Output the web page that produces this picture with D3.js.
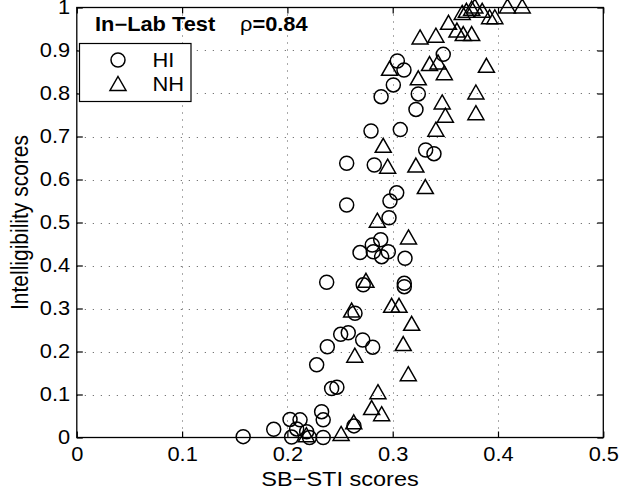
<!DOCTYPE html>
<html><head><meta charset="utf-8">
<script src="https://cdn.jsdelivr.net/npm/d3@7/dist/d3.min.js"></script>
<style>
body{margin:0;background:#fff;}
text{font-family:"Liberation Sans",Arial,Helvetica,sans-serif;fill:#000;}
</style></head>
<body><svg id="c" width="620" height="492"></svg>
<script>
const xTicks=[0,0.1,0.2,0.3,0.4,0.5];
const yTicks=[0,0.1,0.2,0.3,0.4,0.5,0.6,0.7,0.8,0.9,1];
const xTickLabels=["0","0.1","0.2","0.3","0.4","0.5"];
const yTickLabels=["0","0.1","0.2","0.3","0.4","0.5","0.6","0.7","0.8","0.9","1"];
const seriesNames=["HI","NH"];
const hiX=[0.158,0.187,0.2025,0.212,0.2088,0.204,0.2183,0.221,0.234,0.2325,0.234,0.242,0.247,0.2632,0.2278,0.2379,0.2506,0.2578,0.2715,0.281,0.2642,0.2373,0.272,0.311,0.311,0.269,0.2806,0.2816,0.2895,0.2886,0.2958,0.3117,0.2965,0.2974,0.3038,0.2563,0.2563,0.2825,0.3313,0.3392,0.2794,0.3072,0.3221,0.289,0.3243,0.3006,0.3107,0.3044,0.348];
const hiY=[0.002,0.019,0.042,0.041,0.02,0.001,0.0135,0.0,0.0,0.06,0.041,0.114,0.117,0.027,0.169,0.211,0.24,0.2437,0.2267,0.21,0.289,0.361,0.355,0.3586,0.3507,0.43,0.4477,0.432,0.4205,0.46,0.432,0.4167,0.511,0.55,0.569,0.5407,0.6377,0.6337,0.6686,0.66,0.7128,0.716,0.763,0.7926,0.799,0.82,0.8547,0.8756,0.891];
const nhX=[0.218,0.251,0.263,0.280,0.2895,0.286,0.3148,0.264,0.310,0.318,0.299,0.306,0.261,0.2746,0.2854,0.315,0.331,0.322,0.2952,0.291,0.341,0.350,0.347,0.379,0.379,0.297,0.3243,0.335,0.343,0.349,0.389,0.326,0.341,0.353,0.361,0.367,0.375,0.366,0.370,0.375,0.378,0.385,0.392,0.397,0.409,0.423];
const nhY=[0.003,0.006,0.033,0.066,0.052,0.103,0.145,0.188,0.215,0.262,0.304,0.304,0.293,0.362,0.502,0.463,0.58,0.63,0.6275,0.676,0.7135,0.746,0.777,0.752,0.80,0.855,0.833,0.866,0.870,0.845,0.862,0.928,0.932,0.962,0.944,0.936,0.936,0.985,0.99,0.995,1.0,0.99,0.975,0.975,1.0,1.0];

const SX=1.12;
const svg=d3.select("#c");
const x=d3.scaleLinear().domain([0,0.5]).range([76.8,603.3]);
const y=d3.scaleLinear().domain([0,1]).range([437.5,7.5]);
const L=x(0),R=x(0.5),T=y(1),B=y(0);

// grid
const g=svg.append("g");
g.selectAll("line.gx").data(xTicks.slice(1,-1)).join("line")
 .attr("x1",d=>Math.round(x(d))+0.5).attr("x2",d=>Math.round(x(d))+0.5).attr("y1",T).attr("y2",B)
 .attr("stroke","#555").attr("stroke-width",1).attr("stroke-dasharray","1,6");
g.selectAll("line.gy").data(yTicks.slice(1,-1)).join("line")
 .attr("y1",d=>Math.round(y(d))+0.5).attr("y2",d=>Math.round(y(d))+0.5).attr("x1",L).attr("x2",R)
 .attr("stroke","#555").attr("stroke-width",1).attr("stroke-dasharray","1,7");

// axes
const fs=19.5;
const ax=svg.append("g").attr("transform",`translate(0,${B})`)
 .call(d3.axisBottom(x).tickValues(xTicks).tickFormat((d,i)=>xTickLabels[i]).tickSizeInner(-6).tickSizeOuter(0).tickPadding(10));
const ay=svg.append("g").attr("transform",`translate(${L},0)`)
 .call(d3.axisLeft(y).tickValues(yTicks).tickFormat((d,i)=>yTickLabels[i]).tickSizeInner(-6).tickSizeOuter(0).tickPadding(6));
const at=svg.append("g").attr("transform",`translate(0,${T})`)
 .call(d3.axisTop(x).tickValues(xTicks).tickFormat("").tickSizeInner(-6).tickSizeOuter(0));
const ar=svg.append("g").attr("transform",`translate(${R},0)`)
 .call(d3.axisRight(y).tickValues(yTicks).tickFormat("").tickSizeInner(-6).tickSizeOuter(0));
[ax,ay,at,ar].forEach(a=>{a.select(".domain").remove();a.selectAll("line").attr("stroke","#000").attr("stroke-width",1.2);
 a.selectAll("text").attr("font-size",fs).attr("font-family","Liberation Sans, Arial, sans-serif").attr("fill","#000");});
ax.selectAll("text").attr("transform",`scale(${SX},1)`);
ay.selectAll("text").attr("transform",`scale(${SX},1)`);

svg.append("rect").attr("x",L).attr("y",T).attr("width",R-L).attr("height",B-T)
 .attr("fill","none").attr("stroke","#000").attr("stroke-width",1.3);

// markers
const hi=hiX.map((v,i)=>({x:v,y:hiY[i]}));
const nh=nhX.map((v,i)=>({x:v,y:nhY[i]}));
const tri="M0,-8.5L8,5.5L-8,5.5Z";
svg.append("g").selectAll("circle").data(hi).join("circle")
 .attr("cx",d=>x(d.x)).attr("cy",d=>y(d.y)).attr("r",7)
 .attr("fill","none").attr("stroke","#000").attr("stroke-width",1.5);
svg.append("g").selectAll("path").data(nh).join("path")
 .attr("d",tri).attr("transform",d=>`translate(${x(d.x)},${y(d.y)})`)
 .attr("fill","none").attr("stroke","#000").attr("stroke-width",1.5).attr("stroke-linejoin","miter");

// labels
svg.append("text").attr("transform",`translate(${(L+R)/2},486) scale(${SX},1)`)
 .attr("text-anchor","middle").attr("font-size",21).text("SB\u2212STI scores");
svg.append("text").attr("transform",`translate(28,${(T+B)/2}) scale(${SX},1) rotate(-90)`)
 .attr("text-anchor","middle").attr("font-size",21).text("Intelligibility scores");

// title
svg.append("text").attr("transform",`translate(95,31) scale(${SX},1)`)
 .attr("font-size",fs).attr("font-weight","bold").text("In\u2212Lab Test");
const rt=svg.append("text").attr("transform",`translate(240,31) scale(${SX},1)`).attr("font-size",fs);
rt.append("tspan").text("\u03c1");
rt.append("tspan").attr("font-weight","bold").text("=0.84");

// legend
const lg=svg.append("g");
lg.append("rect").attr("x",79.5).attr("y",43.5).attr("width",111.5).attr("height",58)
 .attr("fill","#fff").attr("stroke","#000").attr("stroke-width",1.2);
lg.append("circle").attr("cx",118).attr("cy",60).attr("r",7).attr("fill","none").attr("stroke","#000").attr("stroke-width",1.5);
lg.append("path").attr("d",tri).attr("transform","translate(118,85)").attr("fill","none").attr("stroke","#000").attr("stroke-width",1.5);
lg.selectAll("text.l").data(seriesNames).join("text")
 .attr("transform",(d,i)=>`translate(152.5,${66.5+i*24}) scale(${SX},1)`)
 .attr("font-size",fs).text(d=>d);
</script></body></html>
